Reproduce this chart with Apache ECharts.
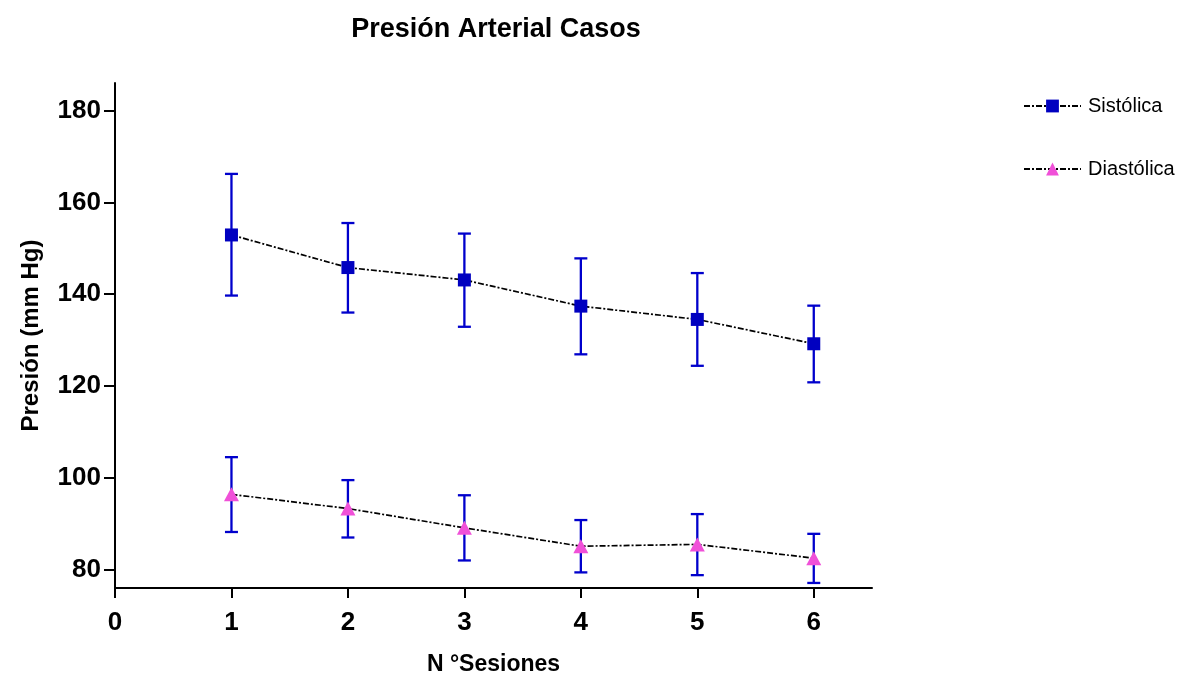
<!DOCTYPE html>
<html>
<head>
<meta charset="utf-8">
<script src="https://cdn.jsdelivr.net/npm/echarts@6/dist/echarts.min.js"></script>
<style>html,body{margin:0;padding:0;background:#fff}#c{width:1181px;height:676px}</style>
</head>
<body>
<div id="c"></div>
<script>
const sessions = [1, 2, 3, 4, 5, 6];
const xTicks = [0, 1, 2, 3, 4, 5, 6];
const yTicks = [80, 100, 120, 140, 160, 180];
const sistolica = [152.9, 145.8, 143.1, 137.4, 134.5, 129.2];
const sistolicaHigh = [166.2, 155.5, 153.2, 147.8, 144.6, 137.5];
const sistolicaLow = [139.7, 136.0, 132.9, 126.9, 124.4, 120.8];
const diastolica = [96.4, 93.3, 89.1, 85.1, 85.5, 82.5];
const diastolicaHigh = [104.5, 99.5, 96.2, 90.8, 92.1, 87.8];
const diastolicaLow = [88.2, 87.0, 82.0, 79.4, 78.8, 77.1];

const FONT = '"Liberation Sans", Arial, sans-serif';

function pairs(ys) { return sessions.map((x, i) => [x, ys[i]]); }
function errData(lo, hi) { return sessions.map((x, i) => [x, lo[i], hi[i]]); }

function errRender(params, api) {
  const x = api.value(0);
  const lo = api.coord([x, api.value(1)]);
  const hi = api.coord([x, api.value(2)]);
  const hw = 6.5;
  const st = { stroke: '#0000CC', lineWidth: 2.3 };
  return {
    type: 'group',
    children: [
      { type: 'line', shape: { x1: lo[0], y1: lo[1], x2: hi[0], y2: hi[1] }, style: st },
      { type: 'line', shape: { x1: hi[0] - hw, y1: hi[1], x2: hi[0] + hw, y2: hi[1] }, style: st },
      { type: 'line', shape: { x1: lo[0] - hw, y1: lo[1], x2: lo[0] + hw, y2: lo[1] }, style: st }
    ]
  };
}

const chart = echarts.init(document.getElementById('c'), null, { renderer: 'canvas' });
chart.setOption({
  animation: false,
  backgroundColor: '#fff',
  title: {
    text: 'Presión Arterial Casos',
    left: 491, top: 11, textAlign: 'center',
    textStyle: { fontFamily: FONT, fontWeight: 'bold', fontSize: 27, color: '#000' }
  },
  legend: {
    orient: 'vertical',
    left: 1023, top: 96, padding: 0,
    itemWidth: 57, itemHeight: 16,
    itemGap: 43,
    textStyle: { fontFamily: FONT, fontSize: 20, color: '#000', padding: [0, 0, 0, 2] },
    data: ['Sistólica', 'Diastólica']
  },
  grid: { left: 115, right: 309, top: 83, bottom: 88, containLabel: false, outerBoundsMode: 'none' },
  xAxis: {
    type: 'value', min: 0, max: 6.5, interval: 1,
    name: 'N °Sesiones', nameLocation: 'middle', nameGap: 65,
    nameTextStyle: { fontFamily: FONT, fontWeight: 'bold', fontSize: 23, color: '#000' },
    axisLine: { show: true, onZero: false, lineStyle: { color: '#000', width: 2 } },
    axisTick: { show: true, length: 10, customValues: xTicks, lineStyle: { color: '#000', width: 2 } },
    axisLabel: { customValues: xTicks, margin: 22, fontFamily: FONT, fontWeight: 'bold', fontSize: 26, color: '#000' },
    splitLine: { show: false }
  },
  yAxis: {
    type: 'value', min: 76, max: 186,
    name: 'Presión (mm Hg)', nameLocation: 'middle', nameGap: 72,
    nameTextStyle: { fontFamily: FONT, fontWeight: 'bold', fontSize: 24, color: '#000' },
    axisLine: { show: true, onZero: false, lineStyle: { color: '#000', width: 2 } },
    axisTick: { show: true, length: 11, customValues: yTicks, lineStyle: { color: '#000', width: 2 } },
    axisLabel: { customValues: yTicks, margin: 14, fontFamily: FONT, fontWeight: 'bold', fontSize: 26, color: '#000' },
    splitLine: { show: false }
  },
  series: [
    {
      type: 'custom', name: 'errS', renderItem: errRender, data: errData(sistolicaLow, sistolicaHigh),
      encode: { x: 0, y: [1, 2] }, z: 1, silent: true
    },
    {
      type: 'custom', name: 'errD', renderItem: errRender, data: errData(diastolicaLow, diastolicaHigh),
      encode: { x: 0, y: [1, 2] }, z: 1, silent: true
    },
    {
      name: 'Sistólica', type: 'line', data: pairs(sistolica), z: 3,
      symbol: 'rect', symbolSize: 13,
      itemStyle: { color: '#0000C0' },
      lineStyle: { color: '#000', width: 1.7, type: [6, 2, 2, 2] }
    },
    {
      name: 'Diastólica', type: 'line', data: pairs(diastolica), z: 3,
      symbol: 'triangle', symbolSize: [15, 14],
      itemStyle: { color: '#F050D8' },
      lineStyle: { color: '#000', width: 1.7, type: [6, 2, 2, 2] }
    }
  ]
});
</script>
</body>
</html>
